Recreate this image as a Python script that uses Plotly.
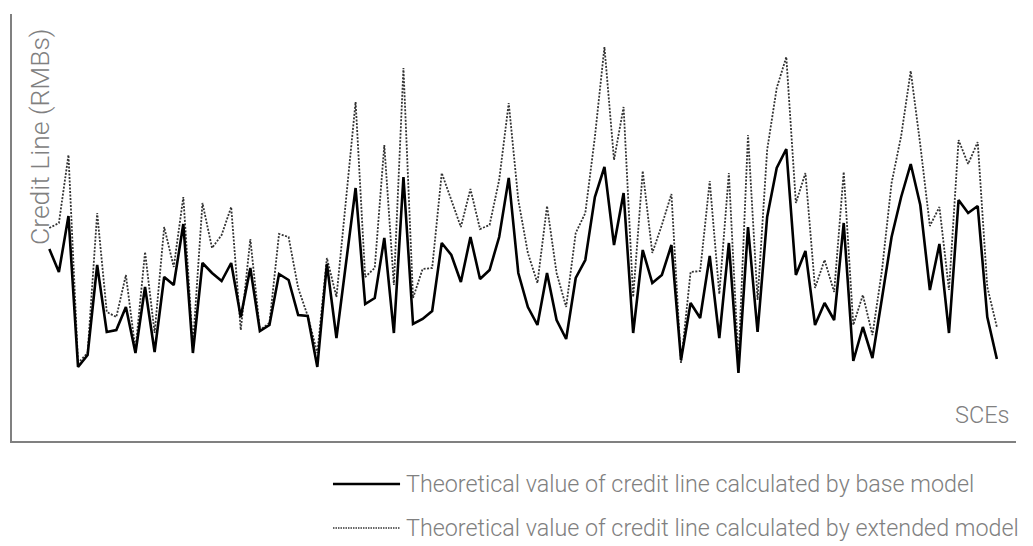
import plotly.graph_objects as go

# SCE index (categories on the x axis)
sces = list(range(1, 101))

# Theoretical credit line, base model (relative units)
base_model = [192, 169, 225, 74, 86, 176, 109, 111, 134, 88,
              154, 89, 164, 156, 217, 88, 178, 168, 160, 178,
              124, 173, 110, 116, 167, 161, 126, 125, 74, 177,
              103, 179, 253, 137, 143, 203, 108, 264, 117, 122,
              130, 198, 186, 159, 204, 162, 171, 204, 263, 168,
              134, 116, 168, 121, 102, 163, 181, 244, 274, 196,
              248, 108, 191, 158, 166, 196, 81, 138, 123, 185,
              103, 198, 68, 214, 109, 224, 273, 292, 166, 190,
              116, 138, 121, 218, 80, 114, 83, 143, 204, 244,
              277, 236, 151, 197, 108, 241, 228, 235, 124, 82]

# Theoretical credit line, extended model
extended_model = [213, 218, 286, 78, 88, 228, 129, 124, 166, 91,
                  189, 108, 214, 174, 244, 96, 238, 193, 206, 234,
                  111, 202, 111, 118, 207, 204, 153, 125, 88, 183,
                  144, 243, 339, 164, 173, 296, 156, 373, 143, 172,
                  173, 268, 241, 214, 252, 212, 216, 261, 338, 241,
                  188, 158, 235, 168, 134, 208, 228, 304, 394, 281,
                  334, 144, 270, 188, 216, 247, 78, 169, 170, 260,
                  147, 268, 79, 306, 141, 291, 353, 384, 238, 268,
                  153, 181, 149, 269, 116, 146, 106, 171, 258, 305,
                  370, 296, 215, 234, 151, 301, 277, 299, 154, 114]

series_names = ["Theoretical value of credit line calculated by base model",
                "Theoretical value of credit line calculated by extended model"]

GREY = "#808080"
FONT = "Roboto"

fig = go.Figure()
fig.add_trace(go.Scatter(x=sces, y=extended_model, mode="lines", name=series_names[1],
                         line=dict(color="#333333", width=1.8, dash="2px,1.5px"),
                         showlegend=False))
fig.add_trace(go.Scatter(x=sces, y=base_model, mode="lines", name=series_names[0],
                         line=dict(color="#000000", width=2.6),
                         showlegend=False))

# manual legend below the plot
legend_rows = [(-0.1007, "#000000", 2.4, "solid", series_names[0]),
               (-0.2037, "#333333", 1.4, "1.5px,1px", series_names[1])]
for yy, col, w, dash, label in legend_rows:
    fig.add_shape(type="line", xref="paper", yref="paper", x0=0.3197, x1=0.3865,
                  y0=yy, y1=yy, line=dict(color=col, width=w, dash=dash))
    fig.add_annotation(xref="paper", yref="paper", x=0.3905, y=yy, text=label,
                       showarrow=False, xanchor="left", yanchor="middle",
                       font=dict(family=FONT, size=23.3, color=GREY, weight=300))

fig.add_annotation(xref="paper", yref="paper", x=0.0279, y=0.712, text="Credit Line (RMBs)",
                   textangle=-90, showarrow=False, xanchor="center", yanchor="middle",
                   font=dict(family=FONT, size=26.5, color=GREY, weight=300))
fig.add_annotation(xref="paper", yref="paper", x=0.9665, y=0.060, text="SCEs",
                   showarrow=False, xanchor="center", yanchor="middle",
                   font=dict(family=FONT, size=23.5, color=GREY, weight=300))

# the page body adds an 8px offset; figure is sized so the plot area sits where the reference has it
fig.update_layout(
    width=1025, height=538,
    margin=dict(l=4, r=17, t=6, b=105),
    paper_bgcolor="white", plot_bgcolor="white",
    xaxis=dict(range=[-2.9, 102.0], showgrid=False, zeroline=False, showticklabels=False,
               ticks="", showline=True, linecolor=GREY, linewidth=2),
    yaxis=dict(range=[0, 427], showgrid=False, zeroline=False, showticklabels=False,
               ticks="", showline=True, linecolor=GREY, linewidth=2),
)

fig.write_html("out.html")
